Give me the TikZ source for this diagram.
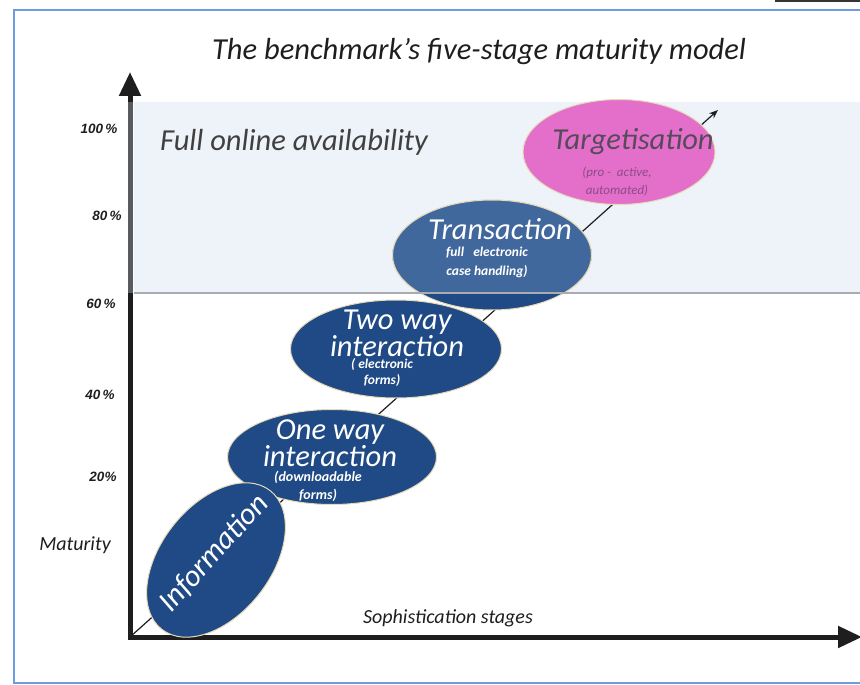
\documentclass[tikz,border=0pt]{standalone}
\usepackage{fontspec}
\setmainfont{Carlito}
\newfontfamily\pctfont{Liberation Sans}
\usepackage{xcolor}
\usepackage{tikz}
\usetikzlibrary{arrows.meta,shapes.geometric}
\definecolor{cFrame}{HTML}{6E9CE0}
\definecolor{cBand}{HTML}{EEF2F9}
\definecolor{cBandLine}{HTML}{A9ACB2}
\definecolor{cStage}{HTML}{1F4A86}
\definecolor{cTrans}{HTML}{41689D}
\definecolor{cTarget}{HTML}{E46FCB}
\definecolor{cTargetTxt}{HTML}{574A5A}
\definecolor{cTargetSub}{HTML}{8C4C86}
\definecolor{cRim}{HTML}{E6DAB8}
\definecolor{cAxis}{HTML}{1E1E1E}
\definecolor{cAxisTop}{HTML}{5A5B5F}
\tikzset{
  stage/.style ={ellipse, draw=cRim, line width=1pt, fill=cStage, inner sep=0pt},
  target/.style={ellipse, draw=cRim, line width=1pt, fill=cTarget, inner sep=0pt},
  big/.style   ={text=white, align=center, inner sep=0pt, font=\fontsize{30.5}{23}\selectfont\itshape},
  sub/.style   ={text=white, align=center, inner sep=0pt, font=\fontsize{14}{18}\selectfont\bfseries\itshape},
  pct/.style   ={inner sep=0pt, font=\fontsize{13.5}{15}\selectfont\pctfont\bfseries\itshape, text=cAxis},
  caption/.style={inner sep=0pt, font=\fontsize{20}{24}\selectfont\itshape, text=cAxis},
  axis/.style  ={{Triangle[length=24pt,width=21pt]}-{Triangle[length=24pt,width=21pt]}, line width=5pt, draw=cAxis},
  diag/.style  ={-{Stealth[length=9pt,width=7pt]}, line width=1.2pt, draw=cAxis},
}
\begin{document}
\begin{tikzpicture}[x=1pt, y=-1pt]
  \useasboundingbox (0,0) rectangle (860,685);
  % frame, band and title
  \draw[cFrame, line width=2pt] (14,10) rectangle (880,683);
  \fill[cAxis!90] (775,0) rectangle (860,2.5);
  \fill[cBand] (134,102) rectangle (860,293);
  \node[inner sep=0pt, font=\fontsize{30.5}{34}\selectfont\itshape, text=cAxis] (title) at (479,52)
    {The benchmark's five-stage maturity model};
  \node[inner sep=0pt, font=\fontsize{30.5}{34}\selectfont\itshape, text=cAxis!85, anchor=west] (full) at (160,142)
    {Full online availability};
  % axes
  \coordinate (O) at (130,637);
  \coordinate (ytip) at (130,72);
  \coordinate (xtip) at (862,637);
  \coordinate (dtip) at (718,110);
  \draw[diag] (O) -- (dtip);
  \draw[axis] (ytip) -- (O) -- (xtip);
  \draw[cAxisTop, line width=5pt] (130,102) -- (130,293);
  \node[caption] (soph) at (448,618) {Sophistication stages};
  \node[caption] (mat) at (75,545) {Maturity};
  % percentages
  \node[pct] (p100) at (99,129) {100\,\%};
  \node[pct] (p80) at (107,216) {80\,\%};
  \node[pct] (p60) at (101,304) {60\,\%};
  \node[pct] (p40) at (100,395) {40\,\%};
  \node[pct] (p20) at (103,477) {20\%};
  % stages
  \node[stage, minimum width=209pt, minimum height=95pt] (oneway) at (332,457) {};
  \node[stage, minimum width=176pt, minimum height=110pt, rotate=52] (info) at (216,560) {};
  \node[stage, minimum width=211pt, minimum height=98pt] (twoway) at (396,349) {};
  \node[stage, minimum width=199pt, minimum height=110pt] (trans) at (492,255) {};
  \begin{scope}
    \clip (134,102) rectangle (860,293);
    \node[stage, fill=cTrans, minimum width=199pt, minimum height=110pt] at (trans) {};
  \end{scope}
  \node[target, minimum width=192pt, minimum height=105pt] (target) at (619,152) {};
  \draw[cBandLine, line width=1.5pt] (134,293) -- (860,293);
  % stage texts
  \node[big, rotate=48] (infotxt) at (214,553) {Information};
  \node[big] (onewaytxt) at (330,443) {One way\\interaction};
  \node[sub] (onewaysub) at (318,486) {(downloadable\\forms)};
  \node[big] (twowaytxt) at (397,333) {Two way\\interaction};
  \node[sub, font=\fontsize{13.5}{16}\selectfont\bfseries\itshape] (twowaysub) at (382,373) {( electronic\\forms)};
  \node[big] (transtxt) at (500,229) {Transaction};
  \node[sub, font=\fontsize{13.5}{19}\selectfont\bfseries\itshape] (transsub) at (487,262) {full\ \ \ electronic\\case handling)};
  \node[big, text=cTargetTxt] (targettxt) at (633,142) {Targetisation};
  \node[sub, text=cTargetSub, font=\fontsize{13}{18}\selectfont\itshape] (targetsub) at (617,182) {(pro -\ \ active,\\automated)};
\end{tikzpicture}
\end{document}
